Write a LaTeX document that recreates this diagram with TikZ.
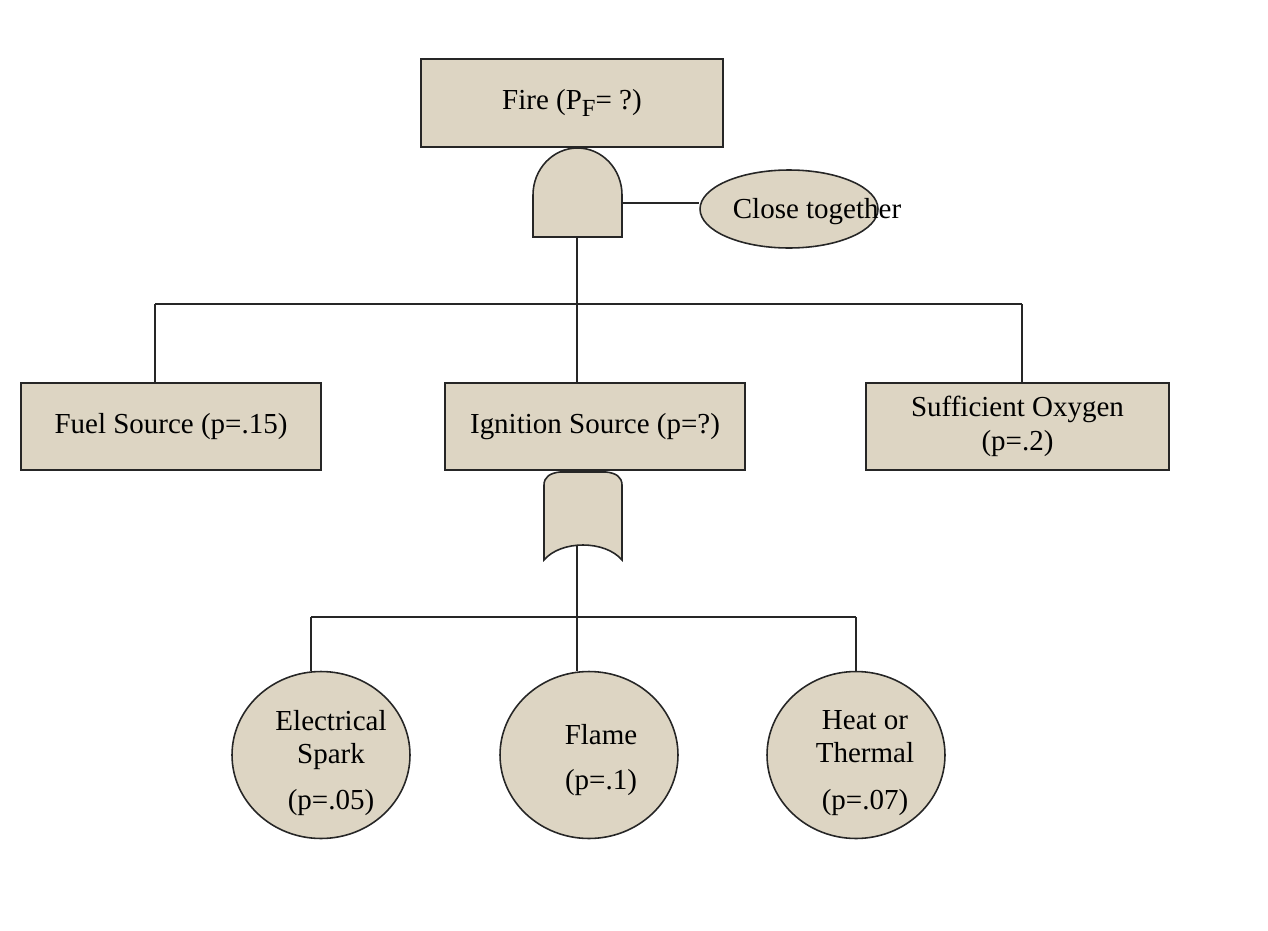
\documentclass[tikz,border=0pt]{standalone}
\usepackage{fontspec}
\setmainfont{Liberation Serif}
\usepackage{xcolor}
\usetikzlibrary{shapes.geometric,positioning}
\definecolor{ftbg}{HTML}{DDD5C3}
\definecolor{ftline}{HTML}{262626}
\newcommand{\ftfont}{\fontsize{16.5}{19}\selectfont}
\tikzset{
  ftbox/.style={draw=ftline, fill=ftbg, line width=0.9pt, align=center, inner sep=2pt, font=\ftfont},
  ftoval/.style={ellipse, draw=ftline, fill=ftbg, line width=0.9pt, inner sep=0pt},
  fttext/.style={align=center, inner sep=0pt, font=\ftfont},
  ftgate/.style={draw=ftline, fill=ftbg, line width=0.9pt},
  ftwire/.style={draw=ftline, line width=0.9pt}
}

\begin{document}
\begin{tikzpicture}[x=0.02cm,y=-0.02cm]

  \useasboundingbox (0,0) rectangle (1268,930);

  % top event
  \node[ftbox, minimum width=6.04cm, minimum height=1.76cm] (fire) at (572,103)
  {Fire (P\raisebox{-0.5ex}{\fontsize{14}{14}\selectfont F}= ?)};

  % AND gate with condition
  \draw[ftgate] (533,237) -- (533,195) .. controls (533,169) and (553,148) .. (577.5,148)
    .. controls (602,148) and (622,169) .. (622,195) -- (622,237) -- cycle;
  \coordinate (andout)  at (577,237);
  \coordinate (andside) at (622,203);

  \node[ftoval, minimum width=3.56cm, minimum height=1.56cm] (close) at (789,209) {};
  \node[fttext] (closetxt) at (817,212) {Close together};

  % second level
  \node[ftbox, minimum width=6.0cm, minimum height=1.74cm] (fuel) at (171,426.5) {Fuel Source (p=.15)};
  \node[ftbox, minimum width=6.0cm, minimum height=1.74cm] (ign) at (595,426.5) {Ignition Source (p=?)};
  \node[ftbox, minimum width=6.06cm, minimum height=1.74cm] (oxy) at (1017.5,426.5) {Sufficient Oxygen\\(p=.2)};

  % OR gate
  \draw[ftgate] (544,560) -- (544,485) .. controls (544,477) and (550,473) .. (560,472) -- (606,472)
    .. controls (616,473) and (622,477) .. (622,485) -- (622,560)
    .. controls (605,540) and (561,540) .. (544,560) -- cycle;
  \coordinate (orout) at (577,545);

  % basic events
  \node[ftoval, minimum width=3.56cm, minimum height=3.34cm] (spark) at (321,755) {};
  \node[ftoval, minimum width=3.56cm, minimum height=3.34cm] (flame) at (589,755) {};
  \node[ftoval, minimum width=3.56cm, minimum height=3.34cm] (heat) at (856,755) {};
  \node[fttext] (sparktxt) at (331,763) {Electrical\\Spark\\[7.4pt](p=.05)};
  \node[fttext] (flametxt) at (601,760) {Flame\\[6.8pt](p=.1)};
  \node[fttext] (heattxt) at (865,763) {Heat or\\Thermal\\[7.4pt](p=.07)};

  % upper wiring
  \coordinate (busL) at (155,304);
  \coordinate (busR) at (1022,304);
  \draw[ftwire] (andside) -- (andside -| close.west);
  \draw[ftwire] (andout) -- (andout |- ign.north);
  \draw[ftwire] (busL) -- (busR);
  \draw[ftwire] (busL) -- (busL |- fuel.north);
  \draw[ftwire] (busR) -- (busR |- oxy.north);

  % lower wiring
  \coordinate (busl) at (311,617);
  \coordinate (busr) at (856,617);
  \draw[ftwire] (orout) -- (orout |- flame.north);
  \draw[ftwire] (busl) -- (busr);
  \draw[ftwire] (busl) -- (busl |- spark.north);
  \draw[ftwire] (busr) -- (heat.north);

\end{tikzpicture}
\end{document}
